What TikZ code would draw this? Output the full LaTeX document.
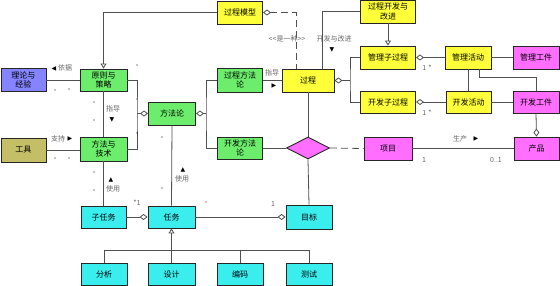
\documentclass[tikz,border=0pt]{standalone}
\usepackage{fontspec}
\newfontfamily\cjk{Noto Sans CJK SC}
\newfontfamily\sym{DejaVu Sans}
\usetikzlibrary{arrows.meta,shapes.geometric}
\definecolor{cgreen}{HTML}{6CEE6C}
\definecolor{cyellow}{HTML}{FFFF3A}
\definecolor{cmag}{HTML}{FF6EFF}
\definecolor{ccyan}{HTML}{3AEEEE}
\definecolor{cblue}{HTML}{8484FF}
\definecolor{colive}{HTML}{C4BE66}
\definecolor{lgray}{HTML}{505050}
\begin{document}
\begin{tikzpicture}[x=1pt,y=-1pt,
  box/.style={draw=black!85, line width=0.9pt, inner sep=0pt, align=center,
    font=\cjk\fontsize{8}{9.5}\selectfont, minimum width=46pt, minimum height=23pt},
  gbox/.style={box, fill=cgreen},
  ybox/.style={box, fill=cyellow},
  mbox/.style={box, fill=cmag},
  cbox/.style={box, fill=ccyan},
  conn/.style={draw=lgray, line width=0.8pt},
  dsh/.style={dash pattern=on 7pt off 4pt},
  agg/.style={conn, -{Diamond[open, length=8pt, width=6pt]}},
  gen/.style={conn, -{Triangle[open, length=5pt, width=6pt]}},
  lbl/.style={font=\cjk\fontsize{7}{8}\selectfont, text=black!60, inner sep=0pt},
  tri/.style={font=\sym\fontsize{6}{7}\selectfont, text=black, inner sep=0pt},
  dot/.style={fill=black, circle, inner sep=0pt, minimum size=1.3pt}
]
\useasboundingbox (0,0) rectangle (560,286);

% nodes
\node[box, fill=cblue, minimum width=45pt] (th) at (23.5,80) {理论与\\经验};
\node[gbox, minimum width=47pt, minimum height=22pt] (yz) at (103.5,80) {原则与\\策略};
\node[box, fill=colive, minimum width=45pt, minimum height=24pt] (gj) at (23.5,150) {工具};
\node[gbox, minimum width=47pt, minimum height=24pt] (fj) at (103.5,149) {方法与\\技术};
\node[gbox, minimum width=47pt] (ffl) at (172,113.5) {方法论};
\node[gbox, minimum width=45pt, minimum height=24pt] (gcff) at (240,80) {过程方法\\论};
\node[gbox, minimum width=45pt, minimum height=22pt] (kfff) at (240,148) {开发方法\\论};
\node[ybox, minimum width=45pt] (gcmx) at (240,12.5) {过程模型};
\node[ybox, minimum width=52pt] (gc) at (308,80.5) {过程};
\node[diamond, draw=black!85, line width=0.9pt, fill=cmag, minimum width=43pt, minimum height=22pt, inner sep=0pt] (dia) at (308,148) {};
\node[ybox, minimum width=55pt] (gckf) at (388,11.5) {过程开发与\\改进};
\node[ybox, minimum width=55pt] (glzg) at (388,57.5) {管理子过程};
\node[ybox, minimum width=55pt, minimum height=22pt] (kfzg) at (388,102) {开发子过程};
\node[ybox] (glhd) at (468,57.5) {管理活动};
\node[ybox, minimum width=45pt, minimum height=22pt] (kfhd) at (468.5,102) {开发活动};
\node[mbox] (glgj) at (536,57.5) {管理工件};
\node[mbox, minimum height=22pt] (kfgj) at (536,102) {开发工件};
\node[mbox, minimum width=48pt] (xm) at (388,148.5) {项目};
\node[mbox, minimum width=45pt] (cp) at (536.5,148.5) {产品};
\node[cbox, minimum width=45pt, minimum height=22pt] (zrw) at (103.5,217) {子任务};
\node[cbox, minimum width=47pt, minimum height=22pt] (rw) at (171.5,217) {任务};
\node[cbox, minimum height=24pt] (mb) at (309,217) {目标};
\node[cbox, minimum height=22pt] (fx) at (104,274) {分析};
\node[cbox, minimum width=47pt, minimum height=22pt] (sj) at (171.5,274) {设计};
\node[cbox, minimum height=22pt] (bm) at (240,274) {编码};
\node[cbox, minimum height=22pt] (cs) at (309,274) {测试};

% helper coordinates
\coordinate (b1) at (137,113.5);
\coordinate (b2) at (206,113.5);
\coordinate (b3) at (350,80.5);
\coordinate (t1) at (171.5,250);

% connectors
\draw[conn] (th.east) -- (yz.west);
\draw[conn] (gj.east) -- (gj.east -| fj.west);
\draw[conn] (yz.south) -- (fj.north);
\draw[gen] (gcmx.west) -| (yz.north);
\draw[conn] (yz.east) -| (b1) |- (fj.east);
\draw[agg] (b1) -- (ffl.west);
\draw[conn] (gcff.west) -| (b2) |- (kfff.west);
\draw[agg] (b2) -- (ffl.east);
\draw[conn] (ffl.south) -- (rw.north);
\draw[conn] (fj.south) -- (zrw.north);
\draw[agg] (zrw.east) -- (rw.west);
\draw[agg] (rw.east) -- (mb.west);
\draw[gen] (t1) -- (rw.south);
\draw[conn] (fx.north) -- (fx.north |- t1) -- (cs.north |- t1) -- (cs.north);
\draw[conn] (sj.north) -- (t1);
\draw[conn] (bm.north) -- (bm.north |- t1);
\draw[conn] (kfff.east) -- (dia.west);
\draw[conn] (dia.north) -- (gc.south);
\draw[conn] (dia.south) -- (mb.north);
\draw[conn, dsh] (dia.east) -- (xm.west);
\draw[conn] (gcff.east) -- (gcff.east -| gc.west);
\draw[conn, dsh, {Diamond[open, length=8pt, width=6pt]}-] (gcmx.east) -| ([xshift=-12pt]gc.north);
\draw[conn] ([xshift=14pt]gc.north) |- (gckf.west);
\draw[conn, {Diamond[open, length=8pt, width=6pt]}-] (gc.east) -- (b3);
\draw[conn] (glzg.west) -| (b3) |- (kfzg.west);
\draw[gen] (gckf.south) -- (glzg.north);
\draw[conn, {Diamond[open, length=8pt, width=6pt]}-] (glzg.east) -- (glhd.west);
\draw[conn, {Diamond[open, length=8pt, width=6pt]}-] (kfzg.east) -- (kfzg.east -| kfhd.west);
\draw[conn] (glhd.east) -- (glgj.west);
\draw[conn] (glhd.south) -- (glhd.south |- kfhd.north);
\draw[conn] ([xshift=11pt]glhd.south) -- ++(0,8) -| (kfgj.north);
\draw[conn] (kfhd.east) -- (kfgj.west);
\draw[agg] (kfgj.south) -- (cp.north);
\draw[conn] (xm.east) -- (xm.east -| cp.west);

% labels
\node[tri] (l1a) at (54,69) {◀};
\node[lbl] (l1) at (65,68) {依据};
\node[lbl] (l2) at (58,139) {支持};
\node[tri] (l2a) at (70,139) {▶};
\node[lbl] (l3) at (113,109) {指导};
\node[tri] (l3a) at (112,120) {▼};
\node[tri] (l4a) at (111,180) {▲};
\node[lbl] (l4) at (113,189) {使用};
\node[tri] (l5a) at (183,170) {▲};
\node[lbl] (l5) at (182,179) {使用};
\node[lbl] (l6) at (137,203) {*1};
\node[lbl] (l7) at (273,204) {1};
\node[lbl] (l8) at (272,73) {指导};
\node[tri] (l8a) at (274,86) {▶};
\node[lbl] (l9) at (287,39) {<<是一种>>};
\node[lbl] (l10) at (334,39) {开发与改进};
\node[tri] (l10a) at (332,50) {▼};
\node[lbl] (l11) at (427,68) {1\,\,*};
\node[lbl] (l12) at (427,113) {1\,\,*};
\node[lbl] (l13) at (460,139) {生产};
\node[tri] (l13a) at (476,139) {▶};
\node[lbl] (l14) at (424,160) {1};
\node[lbl] (l15) at (496,160) {0..1};

% stray dots
\foreach \p in {(55,90),(69,89),(55,158),(69,158),(94,102),(94,120),(94,172),(94,190),(137,65),(137,99),(137,133),(162,137),(162,188)}
  \node[dot] at \p {};
\node[dot, fill=red!70!black] at (206,202) {};
\end{tikzpicture}
\end{document}
